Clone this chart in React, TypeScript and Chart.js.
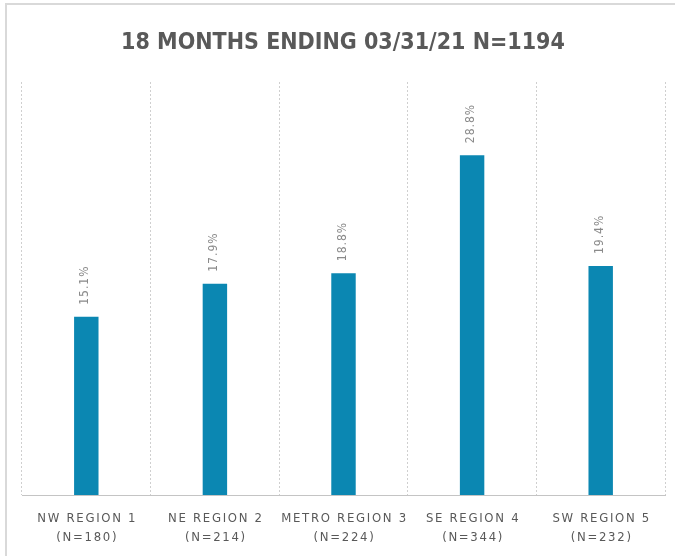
import React, { useEffect, useRef } from 'react';
import { Chart, registerables } from 'chart.js';

Chart.register(...registerables);

const titleText = '18 MONTHS ENDING 03/31/21 N=1194';
const regionNames = ['NW REGION 1', 'NE REGION 2', 'METRO REGION 3', 'SE REGION 4', 'SW REGION 5'];
const regionCounts = ['(N=180)', '(N=214)', '(N=224)', '(N=344)', '(N=232)'];
const percentValues = [15.1, 17.9, 18.8, 28.8, 19.4];
const yAxisMax = 35;

const BAR_COLOR = '#0b87b2';
const TEXT_COLOR = '#595959';
const FONT = "'DejaVu Sans Condensed', 'Liberation Sans', sans-serif";

const decorPlugin = {
  id: 'decor',
  beforeDraw(chart: any) {
    const ctx = chart.ctx as CanvasRenderingContext2D;
    ctx.save();
    ctx.fillStyle = '#ffffff';
    ctx.fillRect(0, 0, chart.width, chart.height);
    ctx.strokeStyle = '#d9d9d9';
    ctx.lineWidth = 2;
    ctx.beginPath();
    ctx.moveTo(6, chart.height);
    ctx.lineTo(6, 4);
    ctx.lineTo(chart.width, 4);
    ctx.stroke();
    // title
    ctx.fillStyle = TEXT_COLOR;
    ctx.font = `bold 23px ${FONT}`;
    ctx.textAlign = 'center';
    ctx.textBaseline = 'alphabetic';
    ctx.fillText(titleText, 343, 49);
    ctx.restore();
  },
  afterDatasetsDraw(chart: any) {
    const ctx = chart.ctx as CanvasRenderingContext2D;
    const meta = chart.getDatasetMeta(0);
    const xScale = chart.scales.x;
    ctx.save();
    // value labels (rotated)
    (ctx as any).letterSpacing = '1px';
    ctx.fillStyle = '#8a8a8a';
    ctx.font = `12px ${FONT}`;
    meta.data.forEach((el: any, i: number) => {
      ctx.save();
      ctx.translate(el.x - 1, el.y - 12);
      ctx.rotate(-Math.PI / 2);
      ctx.textAlign = 'left';
      ctx.textBaseline = 'middle';
      ctx.fillText(percentValues[i].toFixed(1) + '%', 0, 0);
      ctx.restore();
    });
    // category labels
    (ctx as any).letterSpacing = '1.7px';
    ctx.fillStyle = TEXT_COLOR;
    ctx.font = `13px ${FONT}`;
    ctx.textAlign = 'center';
    ctx.textBaseline = 'middle';
    regionNames.forEach((name, i) => {
      const x = xScale.getPixelForValue(i) + 1;
      ctx.fillText(name, x, 519);
      ctx.fillText(regionCounts[i], x, 538);
    });
    ctx.restore();
  },
};

export default function App() {
  const canvasRef = useRef<HTMLCanvasElement | null>(null);

  useEffect(() => {
    if (!canvasRef.current) return;
    const chart = new Chart(canvasRef.current, {
      type: 'bar',
      data: {
        labels: regionNames,
        datasets: [
          {
            data: percentValues,
            backgroundColor: BAR_COLOR,
            borderWidth: 0,
            barPercentage: 0.19,
            categoryPercentage: 1,
          },
        ],
      },
      options: {
        responsive: true,
        maintainAspectRatio: false,
        animation: false,
        layout: { padding: { top: 82, left: 22, right: 10, bottom: 61 } },
        plugins: {
          legend: { display: false },
          title: { display: false },
          tooltip: { enabled: false },
        },
        scales: {
          x: {
            offset: true,
            ticks: { display: false },
            grid: {
              display: true,
              offset: true,
              color: '#cfcfcf',
              lineWidth: 1,
              drawTicks: false,
            },
            border: { display: true, color: '#c4c4c4', width: 1, dash: [2, 2] },
          },
          y: {
            display: false,
            min: 0,
            max: yAxisMax,
          },
        },
      },
      plugins: [decorPlugin],
    });
    return () => chart.destroy();
  }, []);

  return (
    <div style={{ position: 'absolute', left: 0, top: 0, width: 675, height: 556, background: '#fff' }}>
      <canvas ref={canvasRef} />
    </div>
  );
}
